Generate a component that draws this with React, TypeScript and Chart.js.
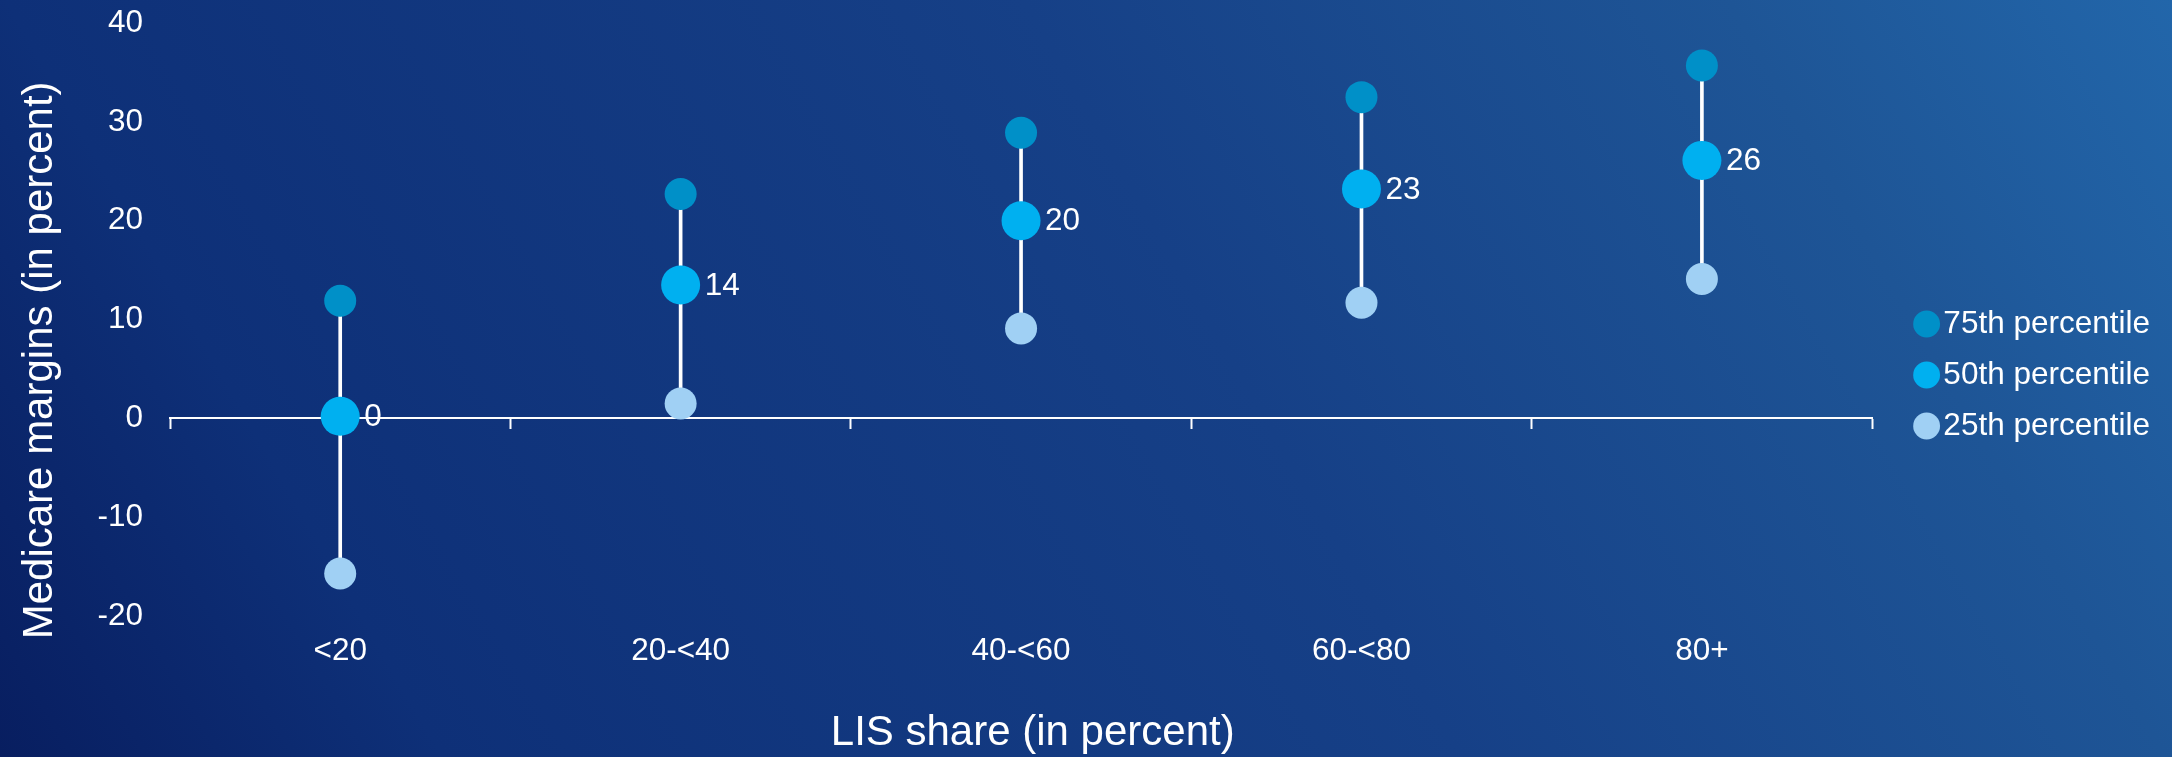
import React, { useEffect, useRef } from 'react';
import { Chart, registerables } from 'chart.js';

Chart.register(...registerables);

const categories = ['<20', '20-<40', '40-<60', '60-<80', '80+'];
const p75 = [11.9, 22.7, 28.9, 32.5, 35.7];
const p50 = [0.2, 13.5, 20.0, 23.2, 26.1];
const p25 = [-15.7, 1.5, 9.1, 11.7, 14.1];
const yMin = -20;
const yMax = 40;
const yStep = 10;

const FONT = "'Liberation Sans', Arial, Helvetica, sans-serif";

const medianLabels = {
  id: 'medianLabels',
  afterDatasetsDraw(chart: any) {
    const idx = chart.data.datasets.findIndex((d: any) => d.label === '50th percentile');
    if (idx < 0) return;
    const meta = chart.getDatasetMeta(idx);
    const ctx = chart.ctx;
    ctx.save();
    ctx.font = `31.5px ${FONT}`;
    ctx.fillStyle = '#ffffff';
    ctx.textAlign = 'left';
    ctx.textBaseline = 'middle';
    meta.data.forEach((pt: any, i: number) => {
      ctx.fillText(String(Math.round(p50[i])), pt.x + 24, pt.y + 1);
    });
    ctx.restore();
  },
};

export default function App() {
  const ref = useRef<HTMLCanvasElement | null>(null);

  useEffect(() => {
    if (!ref.current) return;
    const chart = new Chart(ref.current, {
      type: 'bar',
      data: {
        labels: categories,
        datasets: [
          {
            type: 'bar',
            label: 'range',
            data: categories.map((_, i) => [p25[i], p75[i]]) as any,
            backgroundColor: '#ffffff',
            barThickness: 3,
            order: 10,
            xAxisID: 'x',
            yAxisID: 'y',
          },
          {
            type: 'line',
            label: '75th percentile',
            data: p75,
            showLine: false,
            pointRadius: 16,
            pointHoverRadius: 16,
            pointBackgroundColor: '#0090C8',
            backgroundColor: '#0090C8',
            pointBorderWidth: 0,
            borderWidth: 0,
            order: 1,
            xAxisID: 'x',
            yAxisID: 'y',
          },
          {
            type: 'line',
            label: '50th percentile',
            data: p50,
            showLine: false,
            pointRadius: 19.5,
            pointHoverRadius: 19.5,
            pointBackgroundColor: '#00B0F0',
            backgroundColor: '#00B0F0',
            pointBorderWidth: 0,
            borderWidth: 0,
            order: 2,
            xAxisID: 'x',
            yAxisID: 'y',
          },
          {
            type: 'line',
            label: '25th percentile',
            data: p25,
            showLine: false,
            pointRadius: 16,
            pointHoverRadius: 16,
            pointBackgroundColor: '#A0D0F4',
            backgroundColor: '#A0D0F4',
            pointBorderWidth: 0,
            borderWidth: 0,
            order: 3,
            xAxisID: 'x',
            yAxisID: 'y',
          },
        ],
      },
      options: {
        responsive: false,
        animation: false,
        events: [],
        layout: { padding: { left: 9, right: 12, top: 0, bottom: 7 } },
        plugins: {
          tooltip: { enabled: false },
          legend: {
            position: 'right',
            labels: {
              color: '#ffffff',
              font: { size: 31.5, family: FONT },
              usePointStyle: true,
              pointStyle: 'circle',
              boxWidth: 2,
              boxHeight: 19,
              padding: 19.5,
              filter: (item: any) => item.text !== 'range',
            },
          },
        },
        scales: {
          x: {
            type: 'category',
            position: 'bottom',
            offset: true,
            grid: { display: false, offset: true, drawTicks: false },
            border: { display: false },
            ticks: {
              color: '#ffffff',
              font: { size: 31.5, family: FONT },
              padding: 16,
              maxRotation: 0,
            },
            title: {
              display: true,
              text: '  LIS share (in percent)',
              color: '#ffffff',
              font: { size: 42, family: FONT },
              padding: { top: 20, bottom: -9 },
            },
            afterFit: (s: any) => {
              s.height = 134;
              s.paddingLeft = 0;
              s.paddingRight = 0;
            },
          },
          x0: {
            type: 'category',
            labels: categories,
            position: { y: 0 } as any,
            offset: true,
            grid: {
              display: true,
              offset: true,
              drawOnChartArea: false,
              drawTicks: true,
              tickLength: 10,
              tickWidth: 2,
              tickColor: '#ffffff',
              color: '#ffffff',
            },
            border: { display: true, color: '#ffffff', width: 2 },
            ticks: { display: false },
            afterFit: (s: any) => {
              s.paddingLeft = 0;
              s.paddingRight = 0;
              s.paddingTop = 0;
              s.paddingBottom = 0;
            },
          },
          y: {
            type: 'linear',
            position: 'left',
            min: yMin,
            max: yMax,
            grid: { display: false, drawTicks: false },
            border: { display: false },
            ticks: {
              stepSize: yStep,
              color: '#ffffff',
              font: { size: 31.5, family: FONT },
              padding: 27,
            },
            title: {
              display: true,
              text: 'Medicare margins (in percent)       ',
              color: '#ffffff',
              font: { size: 42, family: FONT },
              padding: { top: 6, bottom: 6 },
            },
            afterFit: (s: any) => {
              s.width = 161;
              s.paddingTop = 23;
              s.paddingBottom = 0;
            },
          },
          yR: {
            type: 'linear',
            position: 'right',
            display: true,
            grid: { display: false, drawTicks: false },
            border: { display: false },
            ticks: { display: false },
            afterFit: (s: any) => {
              s.width = 34;
              s.paddingTop = 0;
              s.paddingBottom = 0;
            },
          },
        },
      } as any,
      plugins: [medianLabels],
    });
    return () => chart.destroy();
  }, []);

  return (
    <div
      style={{
        position: 'fixed',
        left: 0,
        top: 0,
        width: 2172,
        height: 757,
        background:
          'linear-gradient(60deg, #081e60 0%, #0e3078 17%, #164087 56%, #1e5596 83%, #2266aa 100%)',
      }}
    >
      <canvas ref={ref} width={2172} height={757} style={{ display: 'block' }} />
    </div>
  );
}
